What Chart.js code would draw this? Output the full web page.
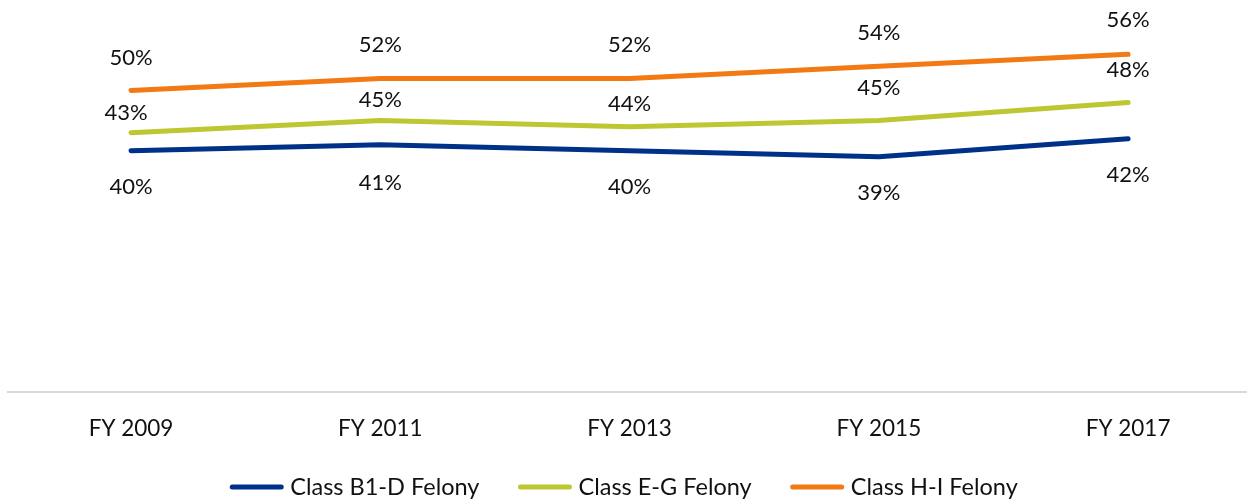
<!DOCTYPE html>
<html lang="en">
<head>
<meta charset="UTF-8">
<title>Felony Rates by Class</title>
<script src="https://cdn.jsdelivr.net/npm/chart.js"></script>
<style>
	html, body { margin: 0; padding: 0; background: #fff; }
	#wrap { width: 1247px; height: 499px; }
</style>
</head>
<body>
<div id="wrap"><canvas id="chart"></canvas></div>
<script>
	const years = ['FY 2009', 'FY 2011', 'FY 2013', 'FY 2015', 'FY 2017'];
	const classB1D = [40, 41, 40, 39, 42];
	const classEG = [43, 45, 44, 45, 48];
	const classHI = [50, 52, 52, 54, 56];

	const FONT = "Lato, 'Open Sans', sans-serif";
	const TEXT = '#111';

	// value labels drawn next to each point
	const pointLabels = {
		id: 'pointLabels',
		afterDatasetsDraw(chart) {
			const ctx = chart.ctx;
			ctx.save();
			ctx.font = '22px ' + FONT;
			ctx.fillStyle = TEXT;
			ctx.textAlign = 'center';
			ctx.textBaseline = 'middle';
			chart.data.datasets.forEach((ds, i) => {
				const meta = chart.getDatasetMeta(i);
				meta.data.forEach((pt, j) => {
					const dy = ds.labelOffsets[j];
					const dx = ds.labelShiftX ? ds.labelShiftX[j] : 0;
					ctx.fillText(ds.data[j].y + '%', pt.x + dx, pt.y + dy);
				});
			});
			ctx.restore();
		}
	};

	// legend along the bottom: short thick line + series name
	const bottomLegend = {
		id: 'bottomLegend',
		afterDraw(chart) {
			const ctx = chart.ctx;
			const lineLen = 55, gapText = 6, gapItem = 38, y = 487;
			ctx.save();
			ctx.font = '23.5px ' + FONT;
			ctx.textBaseline = 'middle';
			const items = chart.data.datasets.map(ds => ({
				ds, w: lineLen + gapText + ctx.measureText(ds.label).width
			}));
			const total = items.reduce((s, it) => s + it.w, 0) + gapItem * (items.length - 1);
			let x = (chart.width - total) / 2;
			items.forEach(it => {
				ctx.strokeStyle = it.ds.borderColor;
				ctx.lineWidth = 5;
				ctx.lineCap = 'round';
				ctx.beginPath();
				ctx.moveTo(x + 3, y);
				ctx.lineTo(x + lineLen - 3, y);
				ctx.stroke();
				ctx.fillStyle = TEXT;
				ctx.fillText(it.ds.label, x + lineLen + gapText, y);
				x += it.w + gapItem;
			});
			ctx.restore();
		}
	};

	const pts = arr => arr.map((v, i) => ({ x: i, y: v }));

	new Chart(document.getElementById('chart'), {
		type: 'line',
		data: {
			datasets: [
				{
					label: 'Class B1-D Felony',
					data: pts(classB1D),
					borderColor: '#003189',
					backgroundColor: '#003189',
					borderWidth: 5,
					labelOffsets: [36, 38, 36, 36, 36]
				},
				{
					label: 'Class E-G Felony',
					data: pts(classEG),
					borderColor: '#BCC731',
					backgroundColor: '#BCC731',
					borderWidth: 5,
					labelOffsets: [-20, -21, -23, -33, -33],
					labelShiftX: [-5, 0, 0, 0, 0]
				},
				{
					label: 'Class H-I Felony',
					data: pts(classHI),
					borderColor: '#F27913',
					backgroundColor: '#F27913',
					borderWidth: 5,
					labelOffsets: [-33, -33, -33, -33, -34]
				}
			]
		},
		options: {
			responsive: true,
			maintainAspectRatio: false,
			animation: false,
			elements: {
				line: { borderCapStyle: 'round', borderJoinStyle: 'round', tension: 0 },
				point: { radius: 0, hoverRadius: 0 }
			},
			layout: { padding: { left: 8, right: 0, top: 0, bottom: 34 } },
			scales: {
				x: {
					type: 'linear',
					min: -0.4935,
					max: 4.477,
					afterBuildTicks: axis => { axis.ticks = years.map((_, i) => ({ value: i })); },
					ticks: {
						callback: v => years[v],
						color: TEXT,
						font: { family: FONT, size: 22.5 },
						padding: 23,
						maxRotation: 0
					},
					grid: { display: false, drawTicks: false },
					border: { display: true, color: '#d9d9d9', width: 2 }
				},
				y: {
					min: 0,
					max: 65,
					display: false
				}
			},
			plugins: {
				legend: { display: false },
				tooltip: { enabled: false }
			}
		},
		plugins: [pointLabels, bottomLegend]
	});
</script>
</body>
</html>
